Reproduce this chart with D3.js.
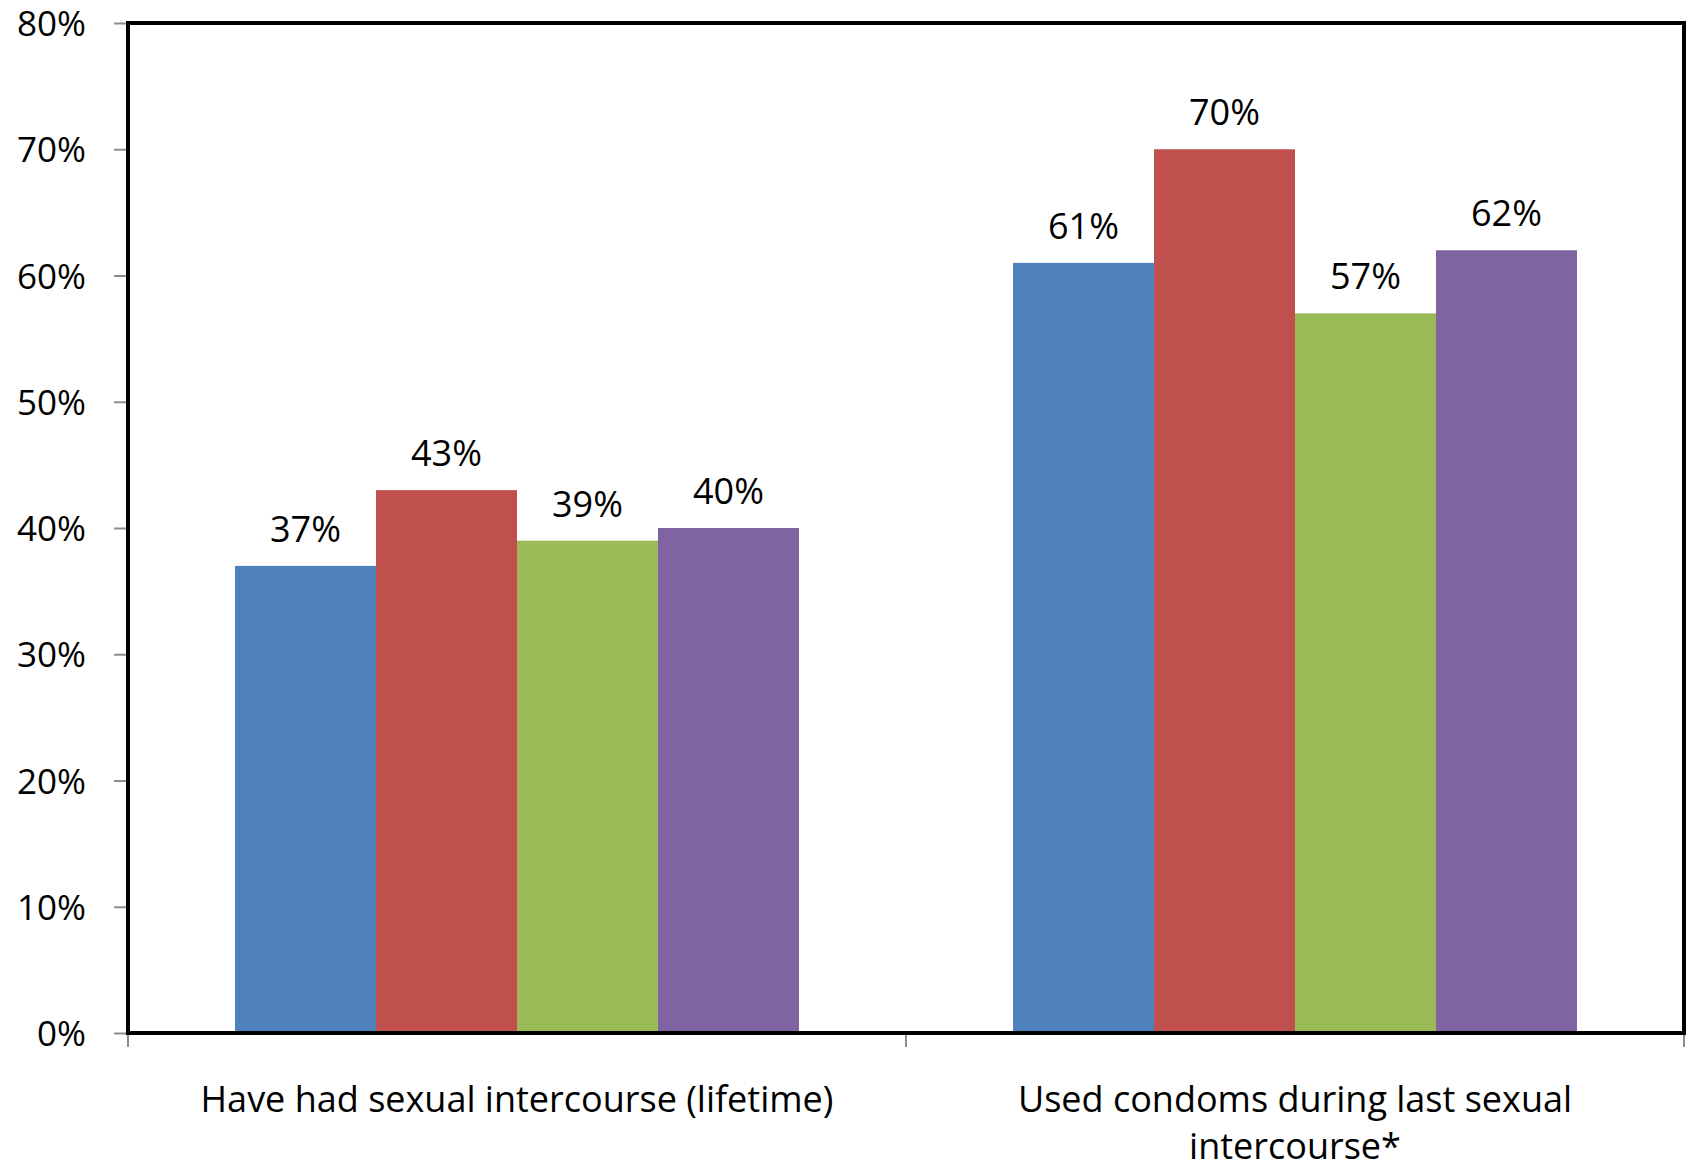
<!DOCTYPE html>
<html>
<head>
<meta charset="utf-8">
<script src="https://cdn.jsdelivr.net/npm/d3@7"></script>
<style>
  html, body { margin: 0; padding: 0; background: #fff; }
  svg { display: block; }
  text { font-family: "Open Sans", Lato, sans-serif; fill: #000; }
</style>
</head>
<body>
<svg id="chart" width="1693" height="1172"></svg>
<script>
// Grouped bar chart data
const categories = [
  ["Have had sexual intercourse (lifetime)"],
  ["Used condoms during last sexual", "intercourse*"]
];
const seriesNames = ["Series 1", "Series 2", "Series 3", "Series 4"];
const seriesColors = ["#4F81BD", "#C0504D", "#9BBB59", "#8064A2"];
const values = [
  [37, 43, 39, 40],   // Have had sexual intercourse (lifetime)
  [61, 70, 57, 62]    // Used condoms during last sexual intercourse*
];
const yTicks = [0, 10, 20, 30, 40, 50, 60, 70, 80];

const svg = d3.select("#chart");
const plot = { left: 128, right: 1684, top: 23, bottom: 1033 };

const catKeys = categories.map((c, i) => i);
const x0 = d3.scaleBand().domain(catKeys).range([plot.left, plot.right]).paddingInner(0).paddingOuter(0);
const x1 = d3.scaleBand().domain(seriesNames).range([0, x0.bandwidth()]).paddingInner(0).paddingOuter(0.759);
const y = d3.scaleLinear().domain([0, 80]).range([plot.bottom, plot.top]);

const fontSize = 36;
const tickFontSize = 35;
const fontFamily = "'Open Sans', Lato, sans-serif";

// Bars
const groups = svg.append("g").selectAll("g")
  .data(catKeys).join("g")
  .attr("transform", d => `translate(${x0(d)},0)`);

groups.selectAll("rect")
  .data(ci => values[ci].map((v, si) => ({ v, si })))
  .join("rect")
  .attr("x", d => x1(seriesNames[d.si]))
  .attr("width", x1.bandwidth())
  .attr("y", d => y(d.v))
  .attr("height", d => y(0) - y(d.v))
  .attr("fill", d => seriesColors[d.si]);

// Value labels
groups.selectAll("text")
  .data(ci => values[ci].map((v, si) => ({ v, si })))
  .join("text")
  .attr("x", d => x1(seriesNames[d.si]) + x1.bandwidth() / 2)
  .attr("y", d => y(d.v) - 24)
  .attr("text-anchor", "middle")
  .style("font-size", fontSize + "px")
  .text(d => d.v + "%");

// Y axis
const yAxis = svg.append("g")
  .attr("transform", `translate(${plot.left},0)`)
  .call(d3.axisLeft(y).tickValues(yTicks).tickSize(14).tickPadding(28).tickFormat(d => d + "%"));
yAxis.select(".domain").remove();
yAxis.selectAll(".tick line").attr("stroke", "#8c8c8c").attr("stroke-width", 2);
yAxis.selectAll(".tick text")
  .attr("dy", null)
  .attr("y", 12.5)
  .style("font-size", tickFontSize + "px")
  .style("font-family", fontFamily)
  .attr("fill", "#000");

// X axis boundary ticks
const boundaries = catKeys.map(k => x0(k)).concat([x0(catKeys[catKeys.length - 1]) + x0.bandwidth()]);
svg.append("g").selectAll("line")
  .data(boundaries).join("line")
  .attr("x1", d => d).attr("x2", d => d)
  .attr("y1", plot.bottom).attr("y2", plot.bottom + 14)
  .attr("stroke", "#8c8c8c").attr("stroke-width", 2);

// Plot frame
svg.append("rect")
  .attr("x", plot.left).attr("y", plot.top)
  .attr("width", plot.right - plot.left)
  .attr("height", plot.bottom - plot.top)
  .attr("fill", "none")
  .attr("stroke", "#000")
  .attr("stroke-width", 4);

// Category labels
const catLabels = svg.append("g").selectAll("text")
  .data(catKeys).join("text")
  .attr("x", d => x0(d) + x0.bandwidth() / 2)
  .attr("y", 1112)
  .attr("text-anchor", "middle")
  .style("font-size", fontSize + "px");
catLabels.selectAll("tspan")
  .data(d => categories[d].map((line, li) => ({ line, li, cx: x0(d) + x0.bandwidth() / 2 })))
  .join("tspan")
  .attr("x", d => d.cx)
  .attr("dy", d => d.li === 0 ? 0 : 47)
  .text(d => d.line);
</script>
</body>
</html>
